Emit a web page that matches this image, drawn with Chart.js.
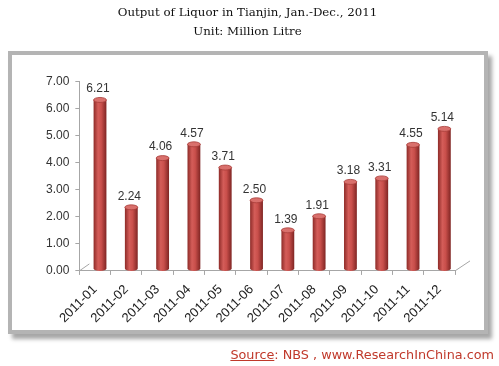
<!DOCTYPE html>
<html>
<head>
<meta charset="utf-8">
<script src="https://cdn.jsdelivr.net/npm/chart.js@4/dist/chart.umd.min.js"></script>
<style>
  html, body { margin: 0; padding: 0; background: #fff; }
  #wrap { position: relative; width: 499px; height: 366px; overflow: hidden; }
  #frame {
    position: absolute; left: 8px; top: 51px; width: 480px; height: 283px;
    box-sizing: border-box; border: 4px solid #b4b4b4;
    box-shadow: 4px 5px 4px rgba(0,0,0,0.35);
    background: #fff;
  }
  #chart { position: absolute; left: 0; top: 0; }
  #source {
    position: absolute; right: 5px; top: 347px;
    font-family: "DejaVu Sans", sans-serif; font-size: 12.8px; color: #c0392b;
    white-space: nowrap;
  }
  #source u { text-decoration: underline; }
</style>
</head>
<body>
<div id="wrap">
  <div id="frame"></div>
  <canvas id="chart" width="499" height="366"></canvas>
  <div id="source"><u>Source</u>: NBS , www.ResearchInChina.com</div>
</div>
<script>
const months = ['2011-01', '2011-02', '2011-03', '2011-04', '2011-05', '2011-06',
                '2011-07', '2011-08', '2011-09', '2011-10', '2011-11', '2011-12'];
const output = [6.21, 2.24, 4.06, 4.57, 3.71, 2.50, 1.39, 1.91, 3.18, 3.31, 4.55, 5.14];
const yTicks = [0, 1, 2, 3, 4, 5, 6, 7];
const titleLines = ['Output of Liquor in Tianjin, Jan.-Dec., 2011', 'Unit: Million Litre'];

const DEPTH = 5; // 3d offset of the bars

// cylinders, floor lines and value labels
const cylinderPlugin = {
  id: 'cylinders',
  afterDatasetsDraw(chart) {
    const ctx = chart.ctx;
    const area = chart.chartArea;
    const meta = chart.getDatasetMeta(0);

    // floor edges
    ctx.save();
    ctx.strokeStyle = '#a6a6a6';
    ctx.lineWidth = 1;
    ctx.beginPath();
    ctx.moveTo(area.left, area.bottom);
    ctx.lineTo(area.left + DEPTH * 2, area.bottom - DEPTH * 1.4);
    ctx.moveTo(area.right, area.bottom);
    ctx.lineTo(area.right + DEPTH * 3, area.bottom - DEPTH * 2);
    ctx.stroke();
    ctx.restore();

    meta.data.forEach((bar, i) => {
      const w = bar.width;
      const x0 = bar.x - w / 2 + DEPTH;
      const x1 = bar.x + w / 2 + DEPTH;
      const top = bar.y - DEPTH * 0.6;
      const bottom = bar.base - 2;
      const ry = 2.5;

      ctx.save();
      const g = ctx.createLinearGradient(x0, 0, x1, 0);
      g.addColorStop(0, '#8e2b28');
      g.addColorStop(0.35, '#d45d59');
      g.addColorStop(0.6, '#c94f4b');
      g.addColorStop(1, '#7f2523');
      ctx.fillStyle = g;
      ctx.beginPath();
      ctx.moveTo(x0, top);
      ctx.lineTo(x0, bottom);
      ctx.ellipse((x0 + x1) / 2, bottom, w / 2, ry, 0, Math.PI, 0, true);
      ctx.lineTo(x1, top);
      ctx.closePath();
      ctx.fill();

      ctx.fillStyle = '#d9706c';
      ctx.strokeStyle = '#a83c39';
      ctx.lineWidth = 0.8;
      ctx.beginPath();
      ctx.ellipse((x0 + x1) / 2, top, w / 2, ry, 0, 0, Math.PI * 2);
      ctx.fill();
      ctx.stroke();

      ctx.fillStyle = '#333';
      ctx.font = '12px "Liberation Sans", sans-serif';
      ctx.textAlign = 'center';
      ctx.textBaseline = 'bottom';
      ctx.fillText(output[i].toFixed(2), bar.x + DEPTH - 2, top - 5);
      ctx.restore();
    });
  }
};

new Chart(document.getElementById('chart'), {
  type: 'bar',
  data: {
    labels: months,
    datasets: [{
      data: output,
      backgroundColor: 'rgba(0,0,0,0)',
      borderWidth: 0,
      barPercentage: 0.82,
      categoryPercentage: 0.5
    }]
  },
  options: {
    responsive: false,
    animation: false,
    events: [],
    layout: { padding: { left: 40, right: 44, top: 0, bottom: 33 } },
    plugins: {
      legend: { display: false },
      tooltip: { enabled: false },
      title: {
        display: true,
        text: titleLines,
        color: '#111',
        font: { family: '"DejaVu Serif", serif', size: 11.8, weight: 'normal', lineHeight: 1.55 },
        padding: { top: 4, bottom: 41 }
      }
    },
    scales: {
      y: {
        min: 0,
        max: 7,
        afterBuildTicks: axis => { axis.ticks = yTicks.map(v => ({ value: v })); },
        border: { display: true, color: '#a6a6a6' },
        grid: { drawOnChartArea: false, drawTicks: true, tickLength: 4, color: '#a6a6a6' },
        ticks: {
          color: '#333',
          padding: 6,
          font: { family: '"Liberation Sans", sans-serif', size: 12 },
          callback: v => Number(v).toFixed(2)
        }
      },
      x: {
        border: { display: true, color: '#a6a6a6' },
        grid: { drawOnChartArea: false, drawTicks: true, tickLength: 4, offset: true, color: '#a6a6a6' },
        ticks: {
          color: '#222',
          minRotation: 45,
          maxRotation: 45,
          padding: 7,
          font: { family: '"Liberation Sans", sans-serif', size: 13 }
        }
      }
    }
  },
  plugins: [cylinderPlugin]
});
</script>
</body>
</html>
